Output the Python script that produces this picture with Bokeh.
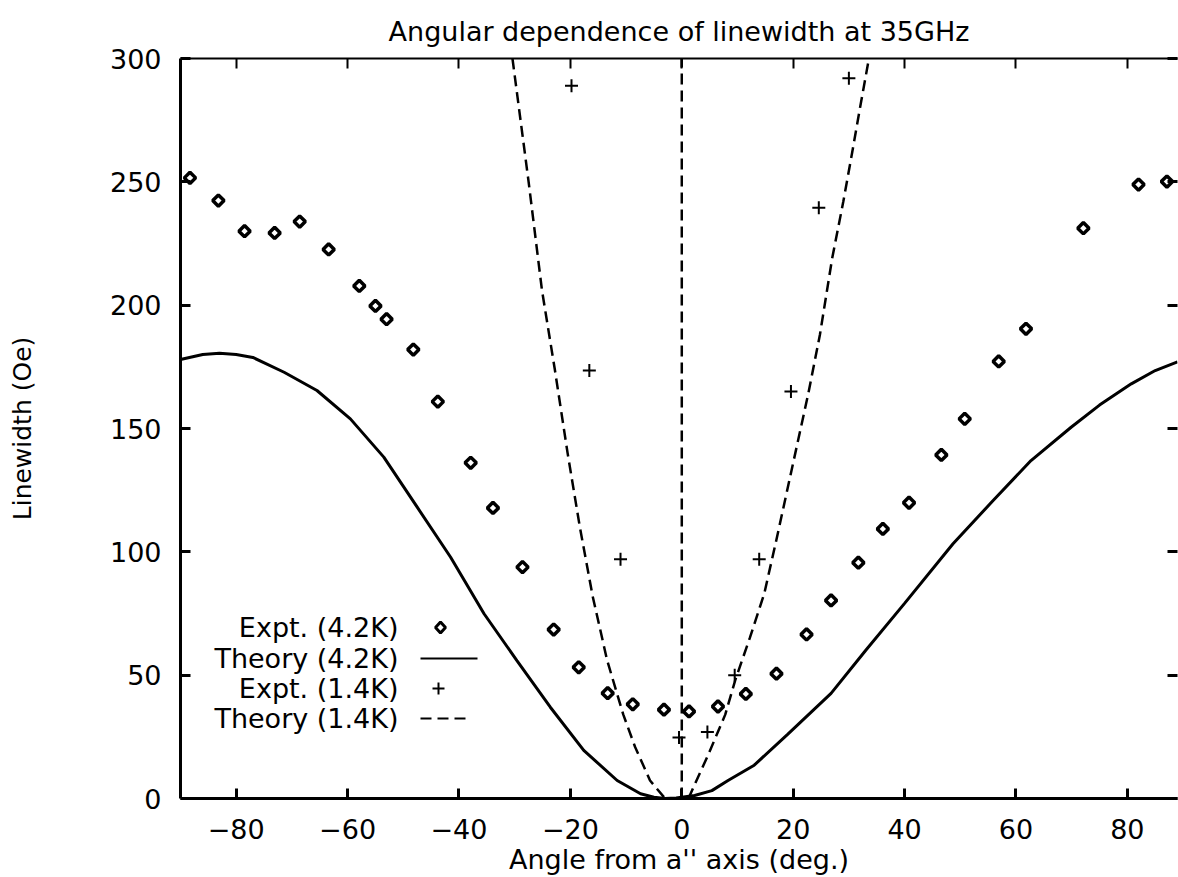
import math
from bokeh.plotting import figure
from bokeh.models import (Range1d, LinearAxis, FixedTicker, Title, Label,
                          Arrow, PolyAnnotation)
from bokeh.embed import file_html
from bokeh.resources import INLINE

FONT = "DejaVu Sans"

# ---------------- data ----------------
title_text = "Angular dependence of linewidth at 35GHz"
x_label = "Angle from a'' axis (deg.)"
y_label = "Linewidth (Oe)"
x_ticks = [-80, -60, -40, -20, 0, 20, 40, 60, 80]
y_ticks = [0, 50, 100, 150, 200, 250, 300]
legend_labels = ["Expt. (4.2K)", "Theory (4.2K)", "Expt. (1.4K)", "Theory (1.4K)"]

expt42_angle = [-88.3, -83.2, -78.5, -73.1, -68.6, -63.4, -57.9, -55.0, -53.0,
                -48.2, -43.8, -37.9, -33.9, -28.6, -23.0, -18.5, -13.3, -8.8,
                -3.2, 1.3, 6.5, 11.5, 17.0, 22.4, 26.8, 31.7, 36.1, 40.8, 46.6,
                50.8, 56.9, 61.8, 72.1, 82.0, 87.1]
expt42_width = [251.6, 242.4, 230.0, 229.3, 233.9, 222.6, 207.8, 199.7, 194.3,
                182.0, 160.9, 136.1, 117.8, 93.8, 68.5, 53.2, 42.7, 38.2,
                36.0, 35.3, 37.3, 42.4, 50.6, 66.5, 80.3, 95.6, 109.3, 119.9, 139.3,
                153.9, 177.2, 190.4, 231.2, 248.9, 250.1]

expt14_angle = [-19.8, -16.6, -11.0, -0.5, 4.6, 9.5, 13.9, 19.6, 24.6, 30.0]
expt14_width = [289.0, 173.5, 97.0, 24.7, 27.0, 50.0, 97.0, 165.0, 239.5, 292.0]

theory42_angle = [-90, -86, -83, -80, -77, -71.4, -65.5, -59.5, -53.5, -47.5,
                  -41.5, -35.5, -29.6, -23.6, -17.6, -11.6, -7.4, -5.0, -3.0,
                  -1.0, 2.3, 5.4, 8.3, 13.0, 19.0, 26.8, 33.0, 40.0, 48.7, 55.9,
                  62.7, 69.9, 75.0, 80.7, 85.0, 89.0]
theory42_width = [178.0, 180.0, 180.5, 180.0, 178.8, 172.8, 165.4, 153.9, 138.4,
                  118.1, 97.8, 74.9, 55.9, 37.0, 19.5, 7.3, 1.9, 0.5, 0.0,
                  0.2, 1.2, 3.2, 7.3, 13.5, 26.0, 42.6, 60.0, 79.1, 103.3, 120.8,
                  137.0, 150.5, 159.5, 168.1, 173.5, 177.0]

theory14_left_angle = [-30.4, -27.5, -25.1, -22.8, -20.5, -18.3, -16.0, -13.4,
                       -10.5, -8.4, -5.7, -3.0]
theory14_left_width = [300, 250, 206, 174, 140, 110, 82, 56, 34, 21, 7.3, 0]
theory14_pole_angle = [0, 0]
theory14_pole_width = [0, 300]
theory14_right_angle = [1.2, 2.1, 4.8, 7.8, 9.6, 12.2, 14.8, 17.0, 19.8, 22.7,
                        24.8, 27.0, 29.0, 30.6, 32.0, 33.6]
theory14_right_width = [0, 4.6, 18, 34, 48, 65, 83, 105, 134, 164, 188, 219,
                        242, 262, 280, 300]

# ---------------- figure ----------------
p = figure(width=1178, height=877, output_backend="svg", toolbar_location=None,
           x_range=Range1d(-90, 89), y_range=Range1d(0, 300),
           x_axis_location=None, y_axis_location=None,
           min_border_left=180, min_border_right=1,
           min_border_top=58, min_border_bottom=79,
           background_fill_color="white", border_fill_color="white")
p.outline_line_color = None
p.grid.visible = False


def labelled_axis(ticks, lw):
    ax = LinearAxis(ticker=FixedTicker(ticks=ticks))
    ax.major_tick_in = 10
    ax.major_tick_out = 0
    ax.minor_tick_line_color = None
    ax.major_tick_line_width = lw
    ax.axis_line_width = lw
    ax.axis_line_color = "black"
    ax.major_tick_line_color = "black"
    ax.major_label_text_font = FONT
    ax.major_label_text_font_size = "27px"
    ax.major_label_text_color = "black"
    ax.axis_label_text_font = FONT
    ax.axis_label_text_font_style = "normal"
    ax.axis_label_text_color = "black"
    return ax


def mirror_axis(ticks, lw, line_color):
    # mirrored frame side: inward tick marks only (minor ticks carry no labels)
    ax = LinearAxis(ticker=FixedTicker(ticks=[], minor_ticks=ticks))
    ax.major_tick_line_color = None
    ax.minor_tick_in = 10
    ax.minor_tick_out = 0
    ax.minor_tick_line_width = lw
    ax.minor_tick_line_color = "black"
    ax.axis_line_width = lw
    ax.axis_line_color = line_color
    ax.major_label_standoff = 0
    return ax


xb = labelled_axis(x_ticks, 3)
xb.major_label_standoff = 20
xb.axis_label = x_label
xb.axis_label_text_font_size = "27px"
xb.axis_label_standoff = 2
p.add_layout(xb, "below")

yl = labelled_axis(y_ticks, 3)
yl.major_label_standoff = 19
yl.axis_label = y_label
yl.axis_label_text_font_size = "25px"
yl.axis_label_standoff = 70
p.add_layout(yl, "left")

p.add_layout(mirror_axis(x_ticks, 2, "black"), "above")
p.add_layout(mirror_axis(y_ticks, 3, None), "right")

title = Title(text=title_text, align="center", text_font=FONT,
              text_font_size="27px", text_font_style="normal",
              text_line_height=1.0, text_color="black", standoff=24)
p.add_layout(title, "above")

# ---------------- data glyphs ----------------
p.line(theory42_angle, theory42_width, line_color="black", line_width=3)
p.multi_line(
    xs=[theory14_left_angle, theory14_pole_angle, theory14_right_angle],
    ys=[theory14_left_width, theory14_pole_width, theory14_right_width],
    line_color="black", line_width=2.5, line_dash="11 6")
p.scatter(expt42_angle, expt42_width, marker="square", angle=math.pi / 4,
          size=8, line_width=3.5, line_color="black", fill_color="white")
p.scatter(expt14_angle, expt14_width, marker="cross", size=13,
          line_width=2, line_color="black")

# ---------------- key (gnuplot style: text left, sample right) ----------------
# positions in screen pixels, measured from the bottom-left corner of the frame
row_y = [171, 140, 110, 80]
text_right = 218
for txt, yy in zip(legend_labels, row_y):
    p.add_layout(Label(x=text_right, y=yy, x_units="screen", y_units="screen",
                       text=txt, text_align="right", text_baseline="middle",
                       text_font=FONT, text_font_size="27px", text_color="black"))

# sample: diamond (Expt. 4.2K)
cx, cy = 260, row_y[0]
p.add_layout(PolyAnnotation(xs=[cx, cx + 5, cx, cx - 5],
                            ys=[cy + 5.5, cy, cy - 5.5, cy],
                            xs_units="screen", ys_units="screen",
                            fill_color="white", fill_alpha=1.0,
                            line_color="black", line_alpha=1.0, line_width=3))
# sample: solid line (Theory 4.2K)
p.add_layout(Arrow(end=None, x_start=240, y_start=row_y[1], x_end=297,
                   y_end=row_y[1], start_units="screen", end_units="screen",
                   line_color="black", line_width=2))
# sample: plus (Expt. 1.4K)
px0, py0 = 258, row_y[2]
p.add_layout(Arrow(end=None, x_start=px0 - 6, y_start=py0, x_end=px0 + 6,
                   y_end=py0, start_units="screen", end_units="screen",
                   line_color="black", line_width=2))
p.add_layout(Arrow(end=None, x_start=px0, y_start=py0 - 6, x_end=px0,
                   y_end=py0 + 6, start_units="screen", end_units="screen",
                   line_color="black", line_width=2))
# sample: dashed line (Theory 1.4K)
p.add_layout(Arrow(end=None, x_start=240, y_start=row_y[3], x_end=290,
                   y_end=row_y[3], start_units="screen", end_units="screen",
                   line_color="black", line_width=2, line_dash="11 6"))

open("out.html", "w").write(file_html(p, INLINE))
